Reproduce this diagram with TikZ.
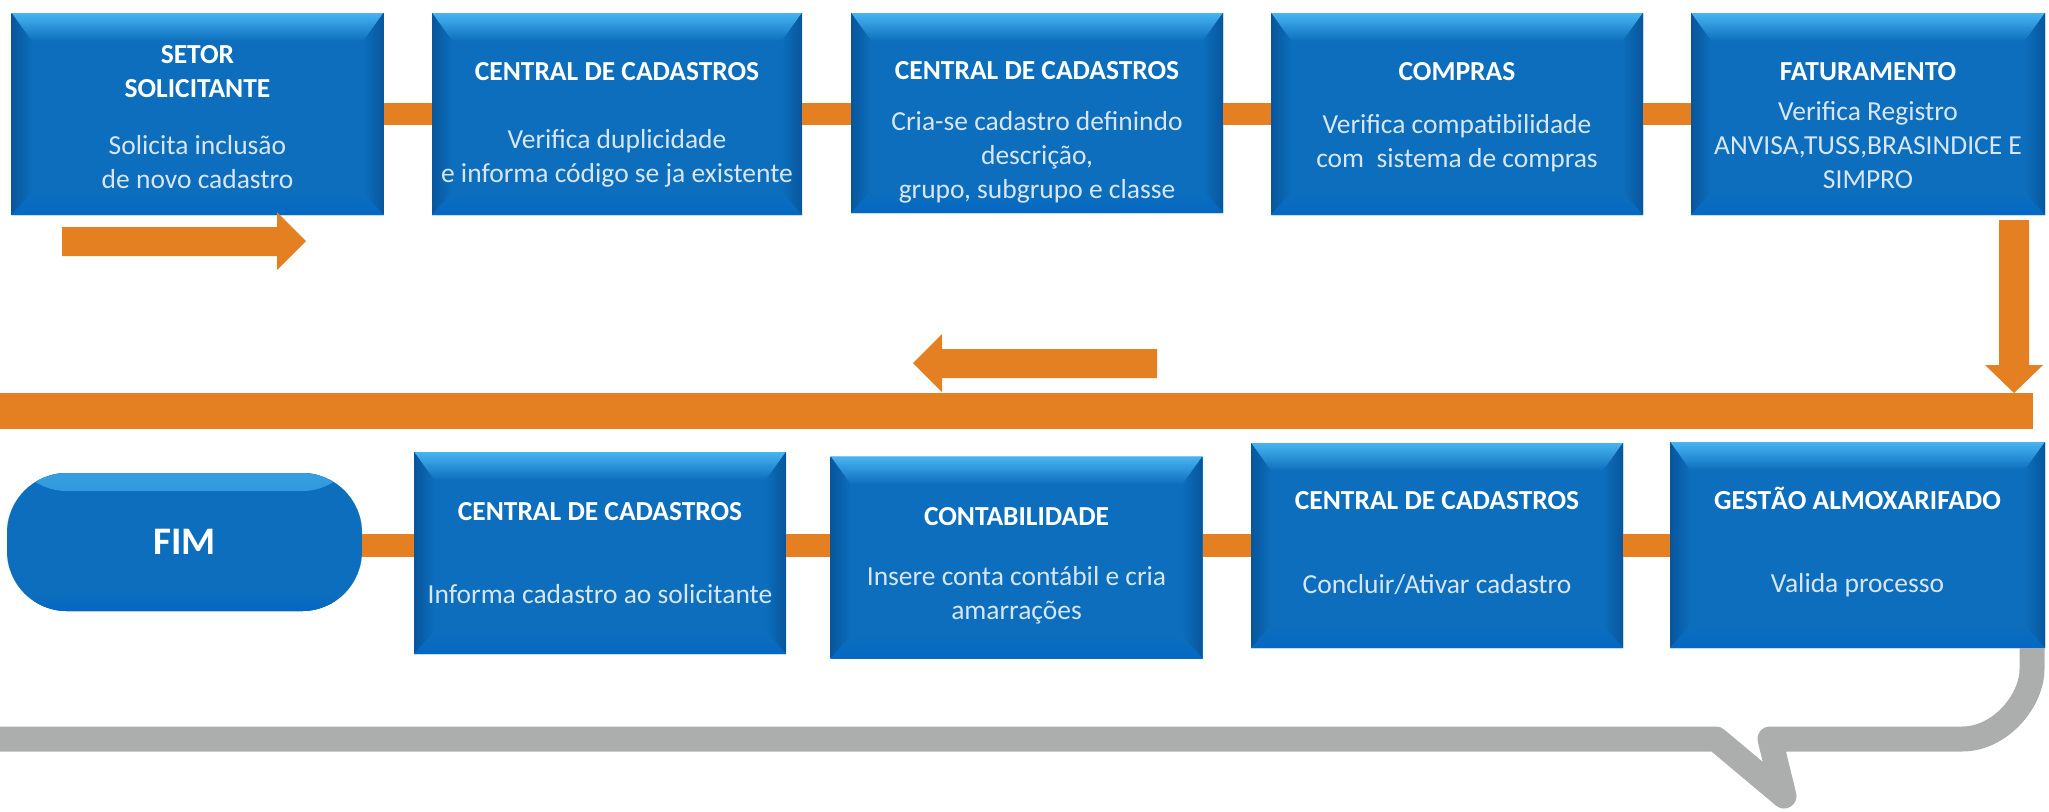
\documentclass[tikz,border=0pt]{standalone}
\usepackage{fontspec}
\setmainfont{Carlito}
\definecolor{azul}{RGB}{12,110,188}
\definecolor{azulclaro}{RGB}{72,180,242}
\definecolor{azulescuro}{RGB}{8,86,156}
\definecolor{azulbase}{RGB}{4,104,196}
\definecolor{laranja}{RGB}{228,127,34}
\definecolor{cinza}{RGB}{172,174,174}
\definecolor{textoclaro}{RGB}{216,230,244}
\newcommand{\titulo}[1]{\textbf{\textcolor{white}{#1}}}

\begin{document}
\begin{tikzpicture}[
    x=0.5pt, y=-0.5pt,
    etapa/.style={rectangle, fill=azul, inner sep=0pt,
        minimum width=186pt, minimum height=101pt,
        path picture={
            \coordinate (pnw) at (path picture bounding box.north west);
            \coordinate (pne) at (path picture bounding box.north east);
            \coordinate (psw) at (path picture bounding box.south west);
            \coordinate (pse) at (path picture bounding box.south east);
            \fill[top color=azulclaro, bottom color=azul] (pnw) -- (pne)
                -- ([xshift=-10pt,yshift=-14pt]pne) -- ([xshift=10pt,yshift=-14pt]pnw) -- cycle;
            \fill[left color=azulescuro, right color=azul] (pnw) -- ([xshift=10pt,yshift=-14pt]pnw)
                -- ([xshift=10pt,yshift=11pt]psw) -- (psw) -- cycle;
            \fill[left color=azul, right color=azulescuro] (pne) -- ([xshift=-10pt,yshift=-14pt]pne)
                -- ([xshift=-10pt,yshift=11pt]pse) -- (pse) -- cycle;
            \fill[top color=azul, bottom color=azulbase] (psw) -- ([xshift=10pt,yshift=11pt]psw)
                -- ([xshift=-10pt,yshift=11pt]pse) -- (pse) -- cycle;
        }},
    fimbox/.style={rectangle, rounded corners=30pt, fill=azul, inner sep=0pt,
        minimum width=177.5pt, minimum height=69pt, text=white,
        font=\fontsize{19.5}{23}\bfseries\selectfont,
        path picture={
            \fill[top color=azulclaro!70!azul, bottom color=azul] (path picture bounding box.north west)
                rectangle ([yshift=-9pt]path picture bounding box.north east);
            \fill[top color=azul, bottom color=azulbase] (path picture bounding box.south west)
                rectangle ([yshift=10pt]path picture bounding box.south east);
        }},
    texto/.style={anchor=north, align=center, inner sep=0pt, text=textoclaro,
        font=\fontsize{13.75}{17}\selectfont},
    liga/.style={draw=laranja, line width=11.25pt},
    bolha/.style={draw=cinza, line width=12.5pt, line join=round}
    ]
    \useasboundingbox (0,0) rectangle (2049,811);

    \node[etapa] (setor) at (197.5,114) {};
    \node[etapa, minimum width=185pt] (duplic) at (617,114) {};
    \node[etapa, minimum height=100pt] (cria) at (1037,113) {};
    \node[etapa] (compras) at (1457,114) {};
    \node[etapa, minimum width=177pt] (fatura) at (1868,114) {};

    \node[fimbox] (fim) at (184.5,542) {FIM};
    \node[etapa] (informa) at (600,553) {};
    \node[etapa] (contab) at (1016.5,557.5) {};
    \node[etapa, minimum height=102.5pt] (ativa) at (1437,545.5) {};
    \node[etapa, minimum width=187.5pt, minimum height=103pt] (almox) at (1857.5,545) {};

    \node[texto] (setor-txt) at ([yshift=-16pt]setor.north)
        {\titulo{SETOR}\\\titulo{SOLICITANTE}\\[11.5pt]Solicita inclusão\\de novo cadastro};
    \node[texto] (duplic-txt) at ([yshift=-24.5pt]duplic.north)
        {\titulo{CENTRAL DE CADASTROS}\\[17pt]Verifica duplicidade\\e informa código se ja existente};
    \node[texto] (cria-txt) at ([yshift=-24pt]cria.north)
        {\titulo{CENTRAL DE CADASTROS}\\[8.5pt]Cria-se cadastro definindo\\descrição,\\grupo, subgrupo e classe};
    \node[texto] (compras-txt) at ([yshift=-24.5pt]compras.north)
        {\titulo{COMPRAS}\\[9.5pt]Verifica compatibilidade\\com\ \ sistema de compras};
    \node[texto] (fatura-txt) at ([yshift=-24.5pt]fatura.north)
        {\titulo{FATURAMENTO}\\[3pt]Verifica Registro\\ANVISA,TUSS,BRASINDICE E\\SIMPRO};
    \node[texto] (informa-txt) at ([yshift=-25.3pt]informa.north)
        {\titulo{CENTRAL DE CADASTROS}\\[24.5pt]Informa cadastro ao solicitante};
    \node[texto] (contab-txt) at ([yshift=-25.3pt]contab.north)
        {\titulo{CONTABILIDADE}\\[13pt]Insere conta contábil e cria\\amarrações};
    \node[texto] (ativa-txt) at ([yshift=-24.3pt]ativa.north)
        {\titulo{CENTRAL DE CADASTROS}\\[25pt]Concluir/Ativar cadastro};
    \node[texto] (almox-txt) at ([yshift=-24.8pt]almox.north)
        {\titulo{GEST\smash{Ã}O ALMOXARIFADO}\\[24.5pt]Valida processo};

    \coordinate (eixo) at (0,545.5);
    \draw[liga] (setor) -- (duplic);
    \draw[liga] (duplic.east) -- (cria.west |- duplic.east);
    \draw[liga] (cria.east |- compras.west) -- (compras.west);
    \draw[liga] (compras) -- (fatura);
    \draw[liga] (fim.east |- eixo) -- (informa.west |- eixo);
    \draw[liga] (informa.east |- eixo) -- (contab.west |- eixo);
    \draw[liga] (contab.east |- eixo) -- (ativa.west |- eixo);
    \draw[liga] (ativa.east |- eixo) -- (almox.west |- eixo);

    \fill[laranja] (62,227) -- (277,227) -- (277,212) -- (306,241) -- (277,270) -- (277,256) -- (62,256) -- cycle;
    \fill[laranja] (1999,220) -- (2029,220) -- (2029,365) -- (2043,365) -- (2014,393) -- (1985,365) -- (1999,365) -- cycle;
    \fill[laranja] (0,393) rectangle (2033,429);
    \fill[laranja] (1157,349) -- (942,349) -- (942,334) -- (913,363) -- (942,392) -- (942,378) -- (1157,378) -- cycle;

    \draw[bolha] (0,739) -- (1716,739) -- (1784,796) -- (1770,739) -- (1962,739)
        .. controls (2000.7,739) and (2032,700.3) .. (2032,669) -- (2032,648);
\end{tikzpicture}
\end{document}
